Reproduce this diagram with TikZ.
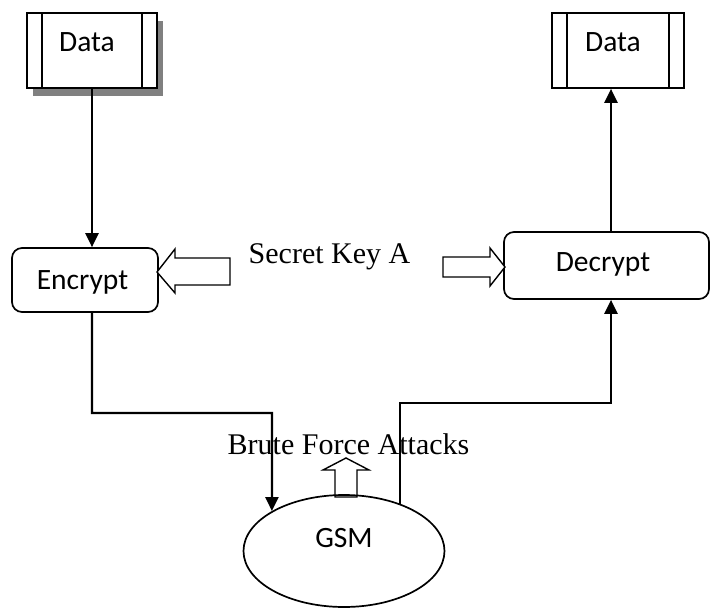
\documentclass[tikz,border=0pt]{standalone}
\usepackage{fontspec}
\setmainfont{Liberation Serif}
\newfontfamily\calib{Carlito}
\usetikzlibrary{arrows.meta,shapes.geometric,shadows}

\begin{document}
\begin{tikzpicture}[x=1pt,y=-1pt,
  boxfont/.style={font=\calib\fontsize{29.5}{35}\selectfont},
  serifnote/.style={font=\fontsize{30}{36}\selectfont, anchor=base, inner sep=0pt},
  datastore/.style={draw, line width=1.7pt, fill=white, inner sep=0pt, boxfont,
    minimum height=75pt, text height=19pt, text depth=18pt,
    path picture={\draw[line width=1.7pt]
      ([xshift=15pt]path picture bounding box.north west) -- ([xshift=15pt]path picture bounding box.south west)
      ([xshift=-15pt]path picture bounding box.north east) -- ([xshift=-15pt]path picture bounding box.south east);}},
  procbox/.style={draw, line width=1.7pt, rounded corners=10pt, inner sep=0pt, boxfont, text height=19pt},
  flow/.style={line width=2.3pt, -{Triangle[length=14pt, width=13pt]}},
  hollowarrow/.style={draw, line width=1.4pt, fill=white, line join=miter}]

\useasboundingbox (0,0) rectangle (710,608);

% storage boxes
\node[datastore, minimum width=130pt,
      drop shadow={shadow xshift=6pt, shadow yshift=-8pt, fill=black!50, opacity=1}]
      (src) at (92,50.5) {Data\hspace*{10pt}};
\node[datastore, minimum width=132pt] (dst) at (618,50.5) {Data\hspace*{10pt}};

% processing steps
\node[procbox, minimum width=146pt, minimum height=64pt, text depth=0pt] (enc) at (85,280) {Encrypt\hspace*{5pt}};
\node[procbox, minimum width=205pt, minimum height=67pt, text depth=8pt] (dec) at (606.5,265.5) {Decrypt\hspace*{7pt}};

% hollow arrow below the channel label, then the channel itself
\draw[hollowarrow] (346,458) -- (369,470) -- (357,470) -- (357,497) -- (335,497) -- (335,470) -- (323,470) -- cycle;
\node[draw, ellipse, line width=1.7pt, inner sep=0pt, minimum width=201pt, minimum height=112pt,
      boxfont, text height=19pt, text depth=27pt] (gsm) at (344,551) {GSM};

% labels
\node[serifnote] (key) at (329.5,263) {Secret Key A};
\node[serifnote] (bfa) at (348.5,454) {Brute Force Attacks};

% key arrows
\draw[hollowarrow] (157,272) -- (175,249) -- (175,258) -- (230,258) -- (230,285) -- (175,285) -- (175,293) -- cycle;
\draw[hollowarrow] (505,267) -- (490,248) -- (490,257) -- (443,257) -- (443,277) -- (490,277) -- (490,286) -- cycle;

% connectors
\coordinate (lbend) at (272,413);
\coordinate (rbend) at (611,403);
\draw[flow] (src.south) -- (src.south |- enc.north);
\draw[flow] (enc.south -| src.south) |- (lbend) -- (gsm.151.6);
\draw[flow] (gsm.40.5) |- (rbend) -- (rbend |- dec.south);
\draw[flow] (rbend |- dec.north) -- (rbend |- dst.south);

\end{tikzpicture}
\end{document}
